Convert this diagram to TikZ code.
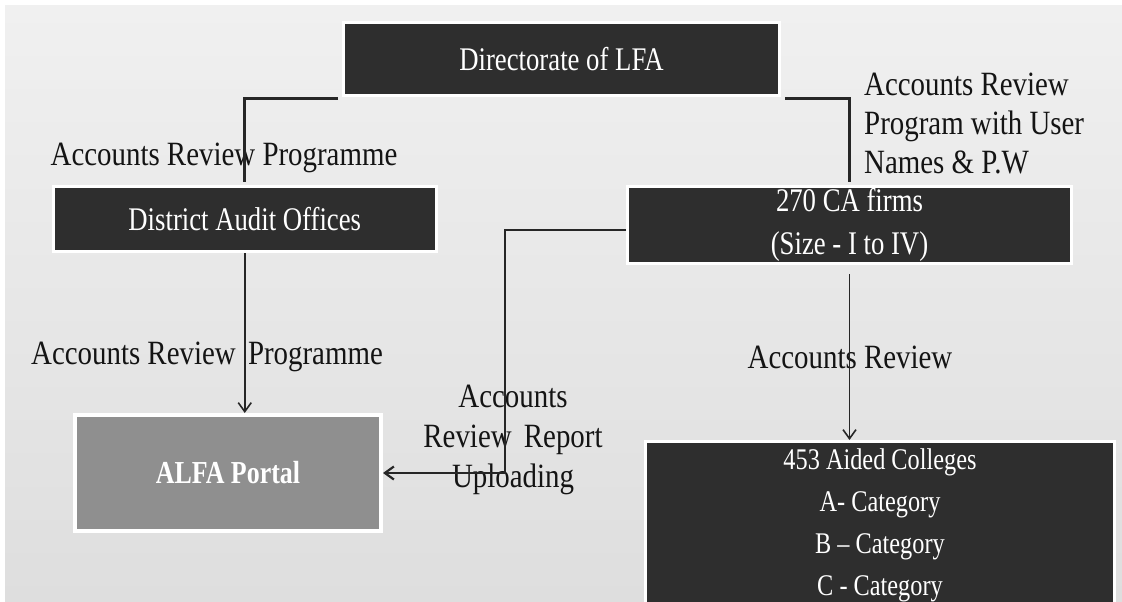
\documentclass[tikz,border=0pt]{standalone}
\usepackage{fontspec}
\setmainfont{Liberation Serif}[FakeStretch=0.85]
\newfontfamily\boxfont{Liberation Serif}[FakeStretch=0.81,Ligatures=TeX]
\usetikzlibrary{arrows.meta}
\definecolor{bgtop}{RGB}{240,240,240}
\definecolor{bgbot}{RGB}{222,222,222}
\definecolor{boxdark}{RGB}{46,46,46}
\definecolor{boxgray}{RGB}{143,143,143}
\definecolor{ink}{RGB}{20,20,20}
\definecolor{linek}{RGB}{38,38,38}
\tikzset{
  darkbox/.style={draw=white, line width=3pt, fill=boxdark, text=white, inner sep=0pt,
    font=\boxfont\fontsize{33}{43}\selectfont, align=center},
  graybox/.style={draw=white, line width=4pt, fill=boxgray, text=white, inner sep=0pt,
    font=\boxfont\fontsize{32}{36}\selectfont\bfseries, align=center},
  lbl/.style={text=ink, inner sep=0pt, font=\fontsize{34}{40}\selectfont},
  topline/.style={draw=linek, line width=3pt},
  arr/.style={draw=linek, line width=1.6pt, -{Straight Barb[length=9pt,width=13pt]}},
}
\begin{document}
\begin{tikzpicture}[x=1pt,y=-1pt]
\useasboundingbox (0,0) rectangle (1122,602);
\clip (0,0) rectangle (1122,602);
\fill[white] (0,0) rectangle (1122,602);
\shade[top color=bgtop, bottom color=bgbot] (5,6) rectangle (1122,602);

% boxes
\node[darkbox, minimum width=436pt, minimum height=73pt] (dir) at (561.5,59) {Directorate of LFA};
\node[darkbox, minimum width=383.5pt, minimum height=65pt] (dao) at (244.75,219) {District Audit Offices};
\node[darkbox, minimum width=444pt, minimum height=77pt] (ca) at (849.5,225) {270 CA firms\\(Size - I to IV)};
\node[graybox, minimum width=306pt, minimum height=116pt] (alfa) at (228,473) {ALFA Portal};
\node[darkbox, minimum width=469pt, minimum height=167pt, font=\boxfont\fontsize{30}{42}\selectfont] (col) at (880,525)
  {453 Aided Colleges\\A- Category\\B – Category\\C - Category};

% labels
\node[lbl] (l1) at (224,158) {Accounts Review Programme};
\node[lbl, anchor=west, align=left, font=\fontsize{34}{39}\selectfont] (l2) at (864,124)
  {Accounts Review\\Program with User\\Names \& P.W};
\node[lbl] (l3) at (207,357) {Accounts Review\hspace{5pt} Programme};
\node[lbl] (l4) at (850,357) {Accounts Review};
\node[lbl, align=center] (l5) at (513,440) {Accounts\\Review\hspace{5pt} Report\\Uploading};

% connectors
\draw[topline] ([xshift=-4pt,yshift=-1.5pt]dir.south west) -| ([yshift=3pt]dao.north);
\draw[topline] ([xshift=4pt,yshift=-1.5pt]dir.south east) -| ([yshift=3pt]ca.north);
\draw[arr] (dao.south) -- (dao.south |- alfa.north);
\draw[arr] ([yshift=-9pt]ca.south) -- (ca.south |- col.north);
\coordinate (bend) at (505,473);
\draw[arr, line width=2.2pt] ([yshift=-5pt]ca.west) -| (bend) -- (alfa.east);
\end{tikzpicture}
\end{document}
